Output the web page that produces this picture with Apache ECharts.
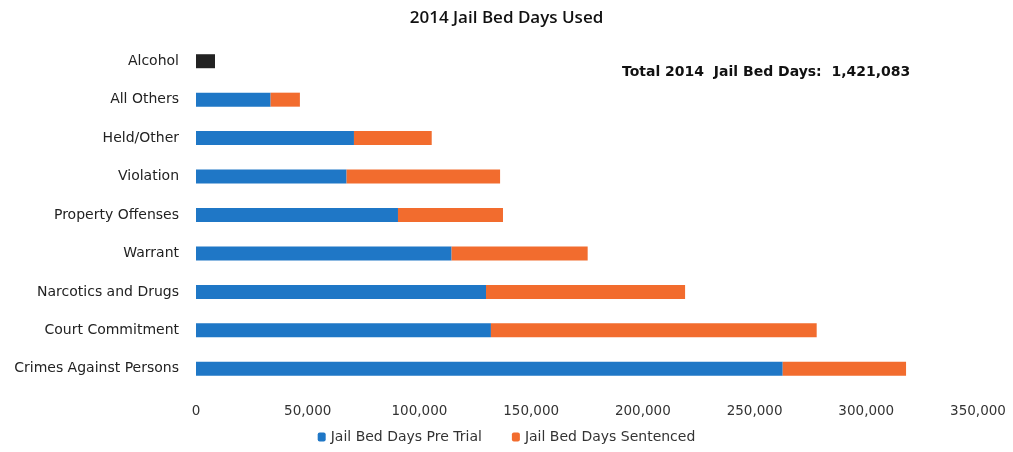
<!DOCTYPE html>
<html>
<head>
<meta charset="utf-8">
<script src="https://cdn.jsdelivr.net/npm/echarts@6/dist/echarts.min.js"></script>
<style>
  html, body { margin: 0; padding: 0; background: #fff; }
  #chart { width: 1013px; height: 452px; }
</style>
</head>
<body>
<div id="chart"></div>
<script>
// Offense categories, listed top to bottom
const categories = [
  'Alcohol', 'All Others', 'Held/Other', 'Violation', 'Property Offenses',
  'Warrant', 'Narcotics and Drugs', 'Court Commitment', 'Crimes Against Persons'
];
const categoryLabels = [
  'Alcohol', 'All Others', 'Held/Other', 'Violation', 'Property Offenses',
  'Warrant', 'Narcotics and Drugs', 'Court Commitment', 'Crimes Against Persons'
];
// Jail bed days by category
const preTrial  = [8500, 33400, 70700, 67400, 90400, 114400, 129800, 132000, 262600];
const sentenced = [0, 13100, 34800, 68700, 47000, 60900, 89100, 145800, 55200];
const seriesNames = ['Jail Bed Days Pre Trial', 'Jail Bed Days Sentenced'];
const totalLabel = 'Total 2014  Jail Bed Days:  1,421,083';

const BLUE = '#1f77c6';
const ORANGE = '#f26c2e';
const FONT = '"DejaVu Sans", sans-serif';
const HEAD_FONT = '"Open Sans", sans-serif';

const chart = echarts.init(document.getElementById('chart'));

const preTrialData = preTrial.map((v, i) =>
  categories[i] === 'Alcohol'
    ? { value: v, itemStyle: { color: '#222222' } }
    : v
);

chart.setOption({
  animation: false,
  backgroundColor: '#ffffff',
  title: {
    text: '2014 Jail Bed Days Used',
    left: 'center',
    top: 5,
    textStyle: { fontFamily: HEAD_FONT, fontSize: 17, fontWeight: 600, color: '#111' }
  },
  grid: { left: 196, right: 35, top: 42, bottom: 64 },
  legend: {
    bottom: 3,
    left: 'center',
    itemWidth: 8,
    itemHeight: 9,
    itemGap: 30,
    icon: 'roundRect',
    textStyle: { fontFamily: FONT, fontSize: 14, color: '#333' },
    data: seriesNames
  },
  xAxis: {
    type: 'value',
    min: 0,
    max: 350000,
    interval: 50000,
    axisLine: { show: false },
    axisTick: { show: false },
    splitLine: { show: false },
    axisLabel: {
      margin: 16,
      fontFamily: FONT,
      fontSize: 13.5,
      color: '#333',
      formatter: v => v.toLocaleString('en-US')
    }
  },
  yAxis: {
    type: 'category',
    inverse: true,
    data: categoryLabels,
    axisLine: { show: false },
    axisTick: { show: false },
    axisLabel: { margin: 17, fontFamily: FONT, fontSize: 14, color: '#222' }
  },
  series: [
    {
      name: seriesNames[0],
      type: 'bar',
      stack: 'days',
      barWidth: 14,
      itemStyle: { color: BLUE },
      data: preTrialData
    },
    {
      name: seriesNames[1],
      type: 'bar',
      stack: 'days',
      barWidth: 14,
      itemStyle: { color: ORANGE },
      data: sentenced
    }
  ],
  graphic: [
    {
      type: 'text',
      left: 622,
      top: 65,
      style: {
        text: totalLabel,
        font: 'bold 14px "DejaVu Sans", sans-serif',
        fill: '#111'
      }
    }
  ]
});
</script>
</body>
</html>
